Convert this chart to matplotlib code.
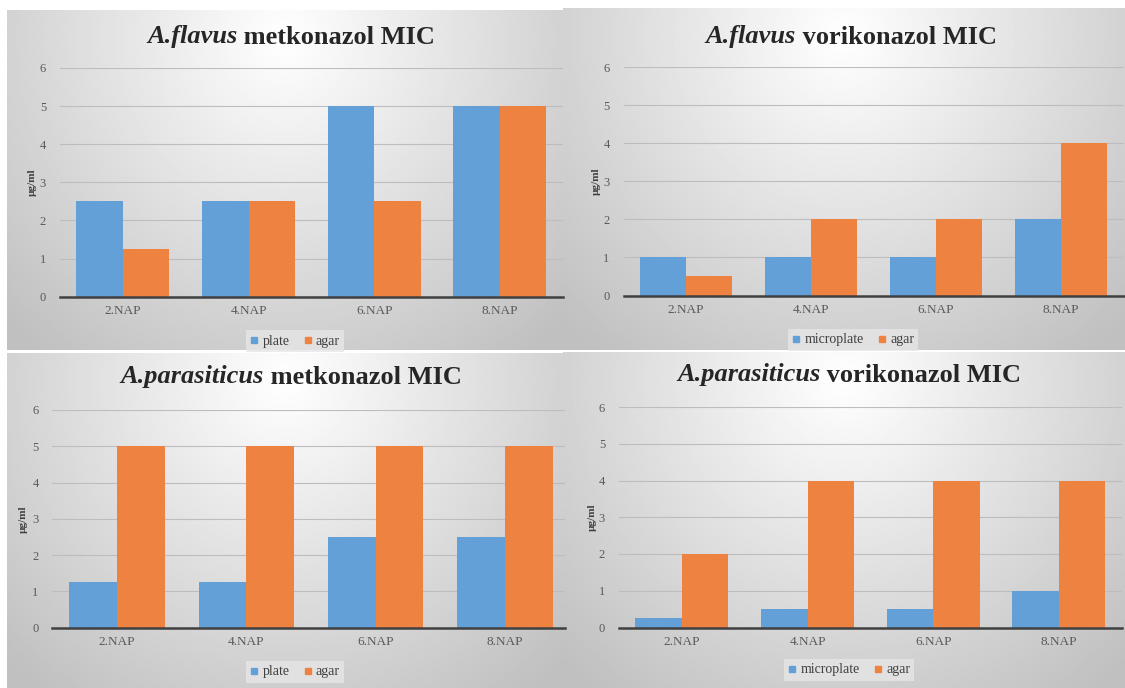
import numpy as np
import matplotlib
matplotlib.use("Agg")
import matplotlib.pyplot as plt
from matplotlib.lines import Line2D

plt.rcParams['font.family'] = ['Liberation Serif', 'DejaVu Serif']

categories = ['2.NAP', '4.NAP', '6.NAP', '8.NAP']

flavus_met_plate = [2.5, 2.5, 5, 5]
flavus_met_agar = [1.25, 2.5, 2.5, 5]
flavus_vor_micro = [1, 1, 1, 2]
flavus_vor_agar = [0.5, 2, 2, 4]
para_met_plate = [1.25, 1.25, 2.5, 2.5]
para_met_agar = [5, 5, 5, 5]
para_vor_micro = [0.25, 0.5, 0.5, 1]
para_vor_agar = [2, 4, 4, 4]

BLUE = '#62A0D7'
ORANGE = '#EE8240'
W, H = 1125, 688

fig = plt.figure(figsize=(W / 100, H / 100), dpi=100)
fig.patch.set_facecolor('white')
renderer = fig.canvas.get_renderer()


def rect(x0, y0, x1, y1):
    # pixel box (top-left origin) -> figure fraction
    return [x0 / W, 1 - y1 / H, (x1 - x0) / W, (y1 - y0) / H]


def background(x0, y0, x1, y1):
    bg = fig.add_axes(rect(x0, y0, x1, y1), zorder=-5)
    yy, xx = np.mgrid[0:1:200j, 0:1:300j]
    d = np.sqrt(((xx - 0.5) / 0.6) ** 2 + ((yy - 0.08) / 1.0) ** 2)
    g = 1.0 - 0.25 * np.clip(d, 0, 1.2) / 1.2
    bg.imshow(g, cmap='gray', vmin=0, vmax=1, aspect='auto', interpolation='bilinear')
    bg.axis('off')


def title(cx, cy, species, rest):
    kw = dict(fontsize=19, fontweight='bold', color='#262626', va='center', ha='left')
    t1 = fig.text(0, 1 - cy / H, species, style='italic', **kw)
    t2 = fig.text(0, 1 - cy / H, ' ' + rest, **kw)
    w1 = t1.get_window_extent(renderer).width
    w2 = t2.get_window_extent(renderer).width
    x0 = cx - (w1 + w2) / 2
    t1.set_x(x0 / W)
    t2.set_x((x0 + w1) / W)


def panel(box, axbox, spacing, species, drug, s1, s2, v1, v2, title_xy, leg_xy, ylab_x):
    background(*box)
    left, top, right, bottom = axbox
    ax = fig.add_axes(rect(left, top, right, bottom))
    ax.patch.set_alpha(0)
    x = np.arange(len(categories))
    w = 0.37
    ax.bar(x - w / 2, v1, w, color=BLUE, zorder=3)
    ax.bar(x + w / 2, v2, w, color=ORANGE, zorder=3)
    ax.set_xlim(-0.5, -0.5 + (right - left) / spacing)
    ax.set_ylim(0, 6)
    ax.set_yticks(range(7))
    ax.set_xticks(x)
    ax.set_xticklabels(categories, fontsize=9.5, color='#595959')
    ax.tick_params(axis='y', labelsize=9, labelcolor='#595959', length=0, pad=10)
    ax.tick_params(axis='x', length=0, pad=6)
    ax.grid(axis='y', color='#bdbdbd', lw=0.8, zorder=0)
    for s in ['top', 'right', 'left']:
        ax.spines[s].set_visible(False)
    ax.spines['bottom'].set_color('#404040')
    ax.spines['bottom'].set_linewidth(1.8)
    ax.spines['bottom'].set_zorder(4)

    title(title_xy[0], title_xy[1], species, drug + ' MIC')
    fig.text(ylab_x / W, 1 - (top + bottom) / 2 / H, 'µg/ml', rotation=90,
             ha='center', va='center', fontsize=8, fontweight='bold', color='#404040')

    handles = [Line2D([], [], marker='s', ls='none', color=BLUE, markersize=5),
               Line2D([], [], marker='s', ls='none', color=ORANGE, markersize=5)]
    leg = ax.legend(handles, [s1, s2], loc='center', ncol=2,
                    bbox_to_anchor=(leg_xy[0] / W, 1 - leg_xy[1] / H),
                    bbox_transform=fig.transFigure, frameon=True, fancybox=False,
                    fontsize=10, handlelength=0.6, handletextpad=0.3,
                    columnspacing=1.0, borderpad=0.3, borderaxespad=0)
    leg.get_frame().set_facecolor('#e6e6e6')
    leg.get_frame().set_edgecolor('none')
    for t in leg.get_texts():
        t.set_color('#404040')
    return ax


panel((7, 10, 563, 350), (60, 68, 563, 296.7), 125.7, 'A.flavus', 'metkonazol',
      'plate', 'agar', flavus_met_plate, flavus_met_agar, (291, 37), (295, 341), 32)
panel((563, 8, 1125, 350), (623.5, 67, 1123.5, 295.5), 125, 'A.flavus', 'vorikonazol',
      'microplate', 'agar', flavus_vor_micro, flavus_vor_agar, (851, 37), (853, 340), 596)
panel((7, 353, 563, 688), (52.4, 410, 565, 627.5), 129.3, 'A.parasiticus', 'metkonazol',
      'plate', 'agar', para_met_plate, para_met_agar, (291, 377), (295, 672), 23)
panel((563, 352, 1125, 688), (619, 407, 1122, 627.5), 125.7, 'A.parasiticus', 'vorikonazol',
      'microplate', 'agar', para_vor_micro, para_vor_agar, (849, 375), (849, 670), 592)

fig.savefig('out.png', dpi=100)
